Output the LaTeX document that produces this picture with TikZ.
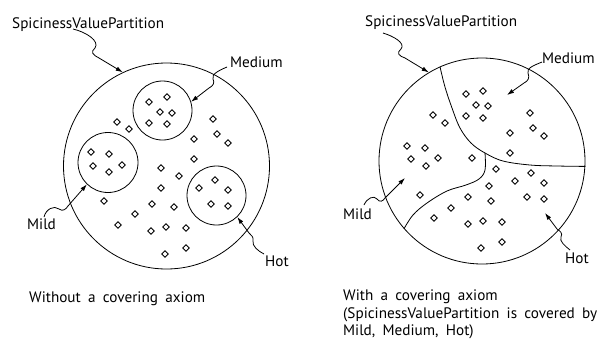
\documentclass[tikz,border=0pt]{standalone}
\usepackage{fontspec}
\setmainfont[WordSpace=1.8]{PT Sans}
\usetikzlibrary{arrows.meta,calc}

\newcommand{\gems}[1]{\foreach \p in {#1} \draw[gem] \p +(0,-3.2) -- +(3.2,0) -- +(0,3.2) -- +(-3.2,0) -- cycle;}

\begin{document}
\begin{tikzpicture}[
    x=1pt, y=-1pt,
    lbl/.style={anchor=base west, inner sep=0pt, font=\fontsize{15.2}{17.5}\selectfont},
    ring/.style={draw, circle, line width=0.8pt, inner sep=0pt},
    lead/.style={-{Latex[length=7pt,width=4.5pt]}, line width=0.8pt},
    cut/.style={line width=0.8pt},
    gem/.style={line width=0.8pt}
]
\useasboundingbox (0,0) rectangle (613,349);

% without a covering axiom
\node (bigL) [ring, minimum size=206pt] at (166.5,166) {};
\node (medL) [ring, minimum size=59pt] at (162.5,110.5) {};
\node (mildL) [ring, minimum size=60pt] at (108,162.5) {};
\node (hotL) [ring, minimum size=59pt] at (216.5,195.5) {};
\gems{(149,102),(167,97),(160,112),(172,113),(149,123),(167,124),
      (91,152),(109,154),(93,166),(122,165),(109,172),
      (199,188),(215,180),(228,190),(211,204),(228,206),
      (117,122),(129,129),(213,119),(217,134),(228,143),(194,139),(194,159),
      (161,168),(179,176),(161,188),(104,201),(152,204),(174,207),(135,214),
      (118,225),(151,231),(166,227),(186,228),(165,254),(186,248)}
\node (tSvpL) [lbl] at (12,28) {SpicinessValuePartition};
\node (tMedL) [lbl] at (230,67) {Medium};
\node (tMildL) [lbl] at (27,229) {Mild};
\node (tHotL) [lbl] at (265,266) {Hot};
\node (capL) [lbl] at (29,302) {Without a covering axiom};
\draw[lead] ($(tSvpL.base west)+(61,1)$) .. controls (86,32) and (100,41) .. (95,48)
    .. controls (90,52) and (93,55) .. (99,58) -- (bigL.115);
\draw[lead] ($(tMedL.base west)+(-3,0)$) .. controls (220,70) and (211,74) .. (213,79)
    .. controls (215,83) and (213,86) .. (209,88) -- (medL.17);
\draw[lead] ($(tMildL.base west)+(17,-12)$) .. controls (46,209) and (54,205) .. (59,209)
    .. controls (63,212) and (66,209) .. (68,206) -- (mildL.226);
\draw[lead] ($(tHotL.base west)+(-1,-12)$) .. controls (258,251) and (252,246) .. (253,241)
    .. controls (254,237) and (251,235) .. (249,233) -- (hotL.314);

% with a covering axiom
\node (bigR) [ring, minimum size=206pt] at (482,161) {};
\draw[cut] plot[smooth, tension=0.6] coordinates {(bigR.114) (445,87) (452,108) (460,128)
    (471,143) (485,153) (503,161) (530,165) (557,166) (bigR.-3.3)};
\draw[cut] plot[smooth, tension=0.6] coordinates {(485,153) (485,170) (479,179) (466,185)
    (447,191) (427,203) (413,215) (bigR.221)};
\gems{(466,94),(483,91),(476,105),(488,106),(466,116),(483,118),
      (530,113),(533,128),(544,136),(510,133),(510,153),
      (433,115),(445,123),(407,146),(425,148),(411,159),(438,158),(426,166),
      (472,158),(420,195),(496,169),(531,173),(544,183),(515,181),
      (489,186),(468,197),(491,201),(527,197),(544,199),(451,208),(434,218),
      (468,224),(483,221),(502,222),(481,248),(502,242)}
\coordinate (medR) at (507,95);
\coordinate (mildR) at (405,178);
\coordinate (hotR) at (545,213);
\node (tSvpR) [lbl] at (365,26) {SpicinessValuePartition};
\node (tMedR) [lbl] at (542,63) {Medium};
\node (tMildR) [lbl] at (343,219) {Mild};
\node (tHotR) [lbl] at (565,263) {Hot};
\node (capR) [lbl, anchor=north west, align=left] at (343,290)
    {With a covering axiom\\(SpicinessValuePartition is covered by\\Mild, Medium, Hot)};
\draw[lead] ($(tSvpR.base west)+(18,7)$) .. controls (393,36) and (406,43) .. (401,49)
    .. controls (396,53) and (399,56) .. (405,58) -- (bigR.121);
\draw[lead] ($(tMedR.base west)+(0,-1)$) .. controls (535,65) and (526,68) .. (528,73)
    .. controls (530,78) and (528,81) .. (524,83) -- (medR);
\draw[lead] ($(tMildR.base west)+(21,-14)$) .. controls (367,198) and (374,195) .. (377,199)
    .. controls (380,203) and (383,201) .. (385,198) -- (mildR);
\draw[lead] ($(tHotR.base west)+(5,-13)$) .. controls (565,246) and (559,241) .. (561,237)
    .. controls (563,233) and (560,231) .. (557,229) -- (hotR);
\end{tikzpicture}
\end{document}
